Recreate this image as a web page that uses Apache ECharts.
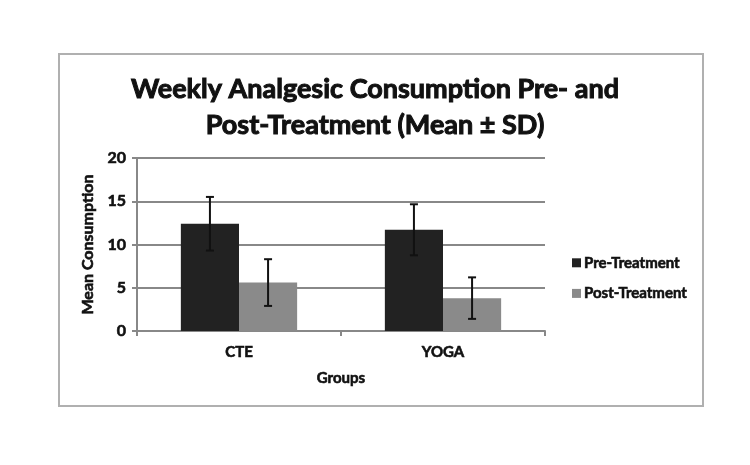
<!DOCTYPE html>
<html>
<head>
    <meta charset="UTF-8" />
    <title>Weekly Analgesic Consumption</title>
    <script src="https://cdn.jsdelivr.net/npm/echarts@6/dist/echarts.min.js"></script>
    <style>
        html, body { margin: 0; padding: 0; background: #fff; }
        #chart { width: 750px; height: 465px; }
    </style>
</head>
<body>
    <div id="chart"></div>
    <script type="text/javascript">
        // data
        const groups = ['CTE', 'YOGA'];
        const seriesNames = ['Pre-Treatment', 'Post-Treatment'];
        const preMean = [12.4, 11.7];
        const preSD = [3.1, 2.95];
        const postMean = [5.6, 3.8];
        const postSD = [2.7, 2.4];
        const yTicks = [0, 5, 10, 15, 20];

        const font = 'Lato, "Open Sans", sans-serif';
        const barPct = 0.285;

        // bold text, thickened a little to match the heavy scanned look
        let heavy = (size) => ({
            fontFamily: font,
            fontWeight: 'bold',
            fontSize: size,
            color: '#111',
            textBorderColor: '#111',
            textBorderWidth: 0.6
        });

        // error bar drawn with a custom series, shifted to sit on its bar
        let errorSeries = (means, sds, side) => ({
            type: 'custom',
            silent: true,
            z: 10,
            data: means.map((m, i) => [i, m - sds[i], m + sds[i]]),
            renderItem: function (params, api) {
                let band = api.size([1, 0])[0];
                let shift = side * band * barPct / 2;
                let lo = api.coord([api.value(0), api.value(1)]);
                let hi = api.coord([api.value(0), api.value(2)]);
                let x = lo[0] + shift;
                let cap = 4;
                let style = { stroke: '#111', lineWidth: 2 };
                return {
                    type: 'group',
                    children: [
                        { type: 'line', shape: { x1: x, y1: lo[1], x2: x, y2: hi[1] }, style: style },
                        { type: 'line', shape: { x1: x - cap, y1: lo[1], x2: x + cap, y2: lo[1] }, style: style },
                        { type: 'line', shape: { x1: x - cap, y1: hi[1], x2: x + cap, y2: hi[1] }, style: style }
                    ]
                };
            }
        });

        let chart = echarts.init(document.getElementById('chart'));
        let option = {
            animation: false,
            backgroundColor: '#fff',
            title: {
                text: 'Weekly Analgesic Consumption Pre- and\nPost-Treatment (Mean \u00b1 SD)',
                left: 'center',
                top: 66,
                textStyle: Object.assign(heavy(27), { lineHeight: 36, textBorderWidth: 1 })
            },
            graphic: [{
                type: 'rect',
                shape: { x: 59, y: 54, width: 644, height: 352 },
                style: { fill: 'none', stroke: '#b0b0b0', lineWidth: 2 },
                z: -1
            }],
            legend: {
                orient: 'vertical',
                left: 567,
                top: 250,
                itemWidth: 9,
                itemHeight: 9,
                itemGap: 15,
                icon: 'rect',
                data: seriesNames,
                textStyle: Object.assign(heavy(15), { padding: [0, 0, 0, -2] })
            },
            grid: { left: 137, right: 205, top: 158, bottom: 134 },
            xAxis: {
                type: 'category',
                data: groups,
                name: 'Groups',
                nameLocation: 'middle',
                nameGap: 40,
                nameTextStyle: heavy(15),
                axisLine: { lineStyle: { color: '#888', width: 2 } },
                axisTick: { show: true, length: 5, lineStyle: { color: '#888', width: 2 } },
                axisLabel: Object.assign(heavy(15), { margin: 14 })
            },
            yAxis: {
                type: 'value',
                min: yTicks[0],
                max: yTicks[yTicks.length - 1],
                interval: 5,
                name: 'Mean Consumption',
                nameLocation: 'middle',
                nameRotate: 90,
                nameGap: 35,
                nameTextStyle: heavy(16),
                axisLine: { show: true, lineStyle: { color: '#888', width: 2 } },
                axisTick: { show: true, length: 5, lineStyle: { color: '#888', width: 2 } },
                axisLabel: Object.assign(heavy(16), { margin: 11 }),
                splitLine: { lineStyle: { color: '#888', width: 2 } }
            },
            series: [
                {
                    name: seriesNames[0],
                    type: 'bar',
                    data: preMean,
                    barWidth: (barPct * 100) + '%',
                    barGap: '0%',
                    itemStyle: { color: '#222' }
                },
                {
                    name: seriesNames[1],
                    type: 'bar',
                    data: postMean,
                    barWidth: (barPct * 100) + '%',
                    barGap: '0%',
                    itemStyle: { color: '#8a8a8a' }
                },
                errorSeries(preMean, preSD, -1),
                errorSeries(postMean, postSD, 1)
            ]
        };
        chart.setOption(option);
    </script>
</body>
</html>
